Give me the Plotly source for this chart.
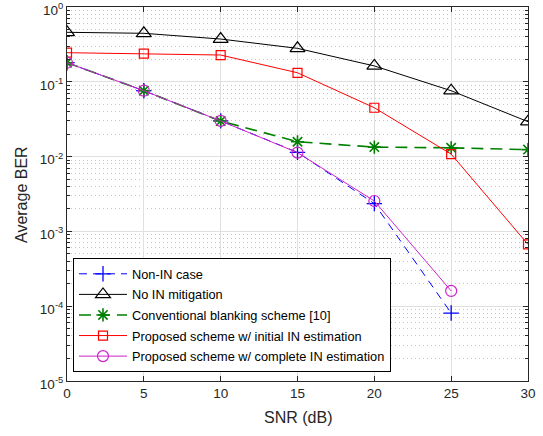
import plotly.graph_objects as go

snr = [0, 5, 10, 15, 20, 25, 30]
snr_short = [0, 5, 10, 15, 20, 25]
ber_non_in = [0.18, 0.076, 0.030, 0.0114, 0.00235, 0.000081]
ber_no_mitig = [0.459, 0.445, 0.373, 0.280, 0.163, 0.076, 0.0293]
ber_blanking = [0.18, 0.076, 0.0299, 0.0158, 0.0134, 0.0131, 0.0124]
ber_initial = [0.245, 0.238, 0.228, 0.132, 0.045, 0.0108, 0.00067]
ber_complete = [0.18, 0.076, 0.030, 0.0113, 0.00255, 0.00016]

ytick_vals = [1e-5, 1e-4, 1e-3, 1e-2, 1e-1, 1]
ytick_text = ["10<sup>-5</sup>", "10<sup>-4</sup>", "10<sup>-3</sup>", "10<sup>-2</sup>", "10<sup>-1</sup>", "10<sup>0</sup>"]
xtick_vals = [0, 5, 10, 15, 20, 25, 30]

FONT = "Liberation Sans, Arial, sans-serif"

fig = go.Figure()
fig.add_trace(go.Scatter(x=snr_short, y=ber_non_in, mode="lines+markers", name="Non-IN case", legendgroup="a",
                         line=dict(color="#0000ff", width=1, dash="8px,6px"),
                         marker=dict(symbol="cross-thin", size=11, line=dict(color="#0000ff", width=1.3))))
fig.add_trace(go.Scatter(x=snr, y=ber_no_mitig, mode="lines+markers", name="No IN mitigation", legendgroup="b",
                         line=dict(color="black", width=1),
                         marker=dict(symbol="triangle-up-open", size=13, color="black", line=dict(width=1.2))))
fig.add_trace(go.Scatter(x=snr, y=ber_blanking, mode="lines+markers", name="Conventional blanking scheme [10]", legendgroup="c",
                         line=dict(color="#008000", width=1.6, dash="12px,7px"),
                         marker=dict(symbol="asterisk-open", size=11, line=dict(color="#008000", width=1.6))))
fig.add_trace(go.Scatter(x=snr, y=ber_initial, mode="lines+markers", name="Proposed scheme w/ initial IN estimation", legendgroup="d",
                         line=dict(color="#ff0000", width=1),
                         marker=dict(symbol="square-open", size=9, color="#ff0000", line=dict(width=1.2))))
fig.add_trace(go.Scatter(x=snr_short, y=ber_complete, mode="lines+markers", name="Proposed scheme w/ complete IN estimation", legendgroup="e",
                         line=dict(color="#cc22cc", width=1),
                         marker=dict(symbol="circle-open", size=11, color="#cc22cc", line=dict(width=1.2))))

axis_common = dict(showline=True, linecolor="#262626", linewidth=1, mirror="ticks",
                   ticks="inside", ticklen=5, tickcolor="#262626", automargin=False,
                   gridcolor="#e0e0e0", gridwidth=1, zeroline=False, ticklabeloverflow="allow",
                   tickfont=dict(family=FONT, size=13.5, color="#262626"))

fig.update_layout(
    width=543, height=436,
    margin=dict(l=67, r=15, t=7, b=55),
    paper_bgcolor="white", plot_bgcolor="white",
    font=dict(family=FONT, color="#262626"),
    showlegend=True,
    legend=dict(x=0.013, y=0.024, xanchor="left", yanchor="bottom",
                bgcolor="white", bordercolor="black", borderwidth=1,
                font=dict(size=12.75, color="black"), tracegroupgap=1, itemwidth=48),
    xaxis=dict(range=[0, 30], tickmode="array", tickvals=xtick_vals, **axis_common),
    yaxis=dict(type="log", range=[-5, 0], tickmode="array", tickvals=ytick_vals, ticktext=ytick_text,
               ticklabelshift=3,
               minor=dict(ticks="inside", ticklen=3, tickcolor="#262626", dtick="D1",
                          showgrid=True, gridcolor="#c4c4c4", griddash="1px,3px", gridwidth=1),
               **axis_common),
    annotations=[
        dict(text="SNR (dB)", xref="paper", yref="paper", x=0.5, y=-0.0963, xanchor="center", yanchor="middle",
             showarrow=False, font=dict(family=FONT, size=16, color="#262626")),
        dict(text="Average BER", xref="paper", yref="paper", x=-0.0998, y=0.5, xanchor="center", yanchor="middle",
             textangle=-90, showarrow=False, font=dict(family=FONT, size=16, color="#262626")),
    ],
)

fig.write_html("out.html", config={"displayModeBar": False},
               post_script="document.body.style.margin='0';")
